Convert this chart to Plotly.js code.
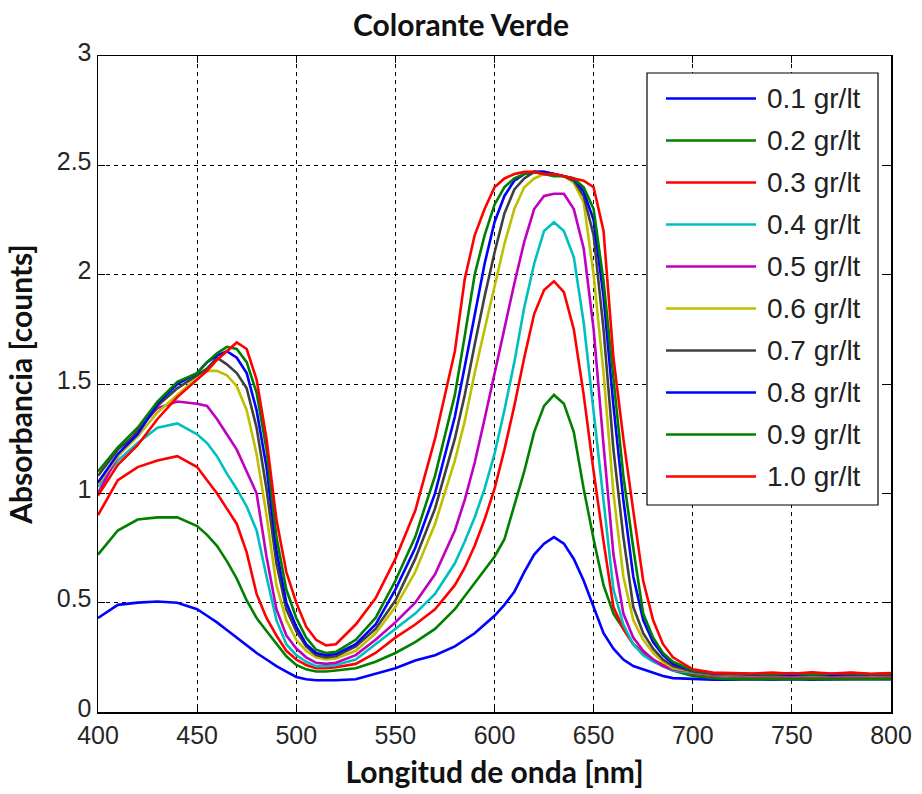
<!DOCTYPE html>
<html>
<head>
<meta charset="utf-8">
<script src="https://cdn.plot.ly/plotly-3.0.1.min.js"></script>
<style>html,body{margin:0;padding:0;background:#fff;}#chart{width:922px;height:794px;}</style>
</head>
<body>
<div id="chart"></div>
<script>
// Wavelength grid (nm)
const wavelength = [400,410,420,430,440,
  450,455,460,465,470,475,480,485,490,495,500,505,510,515,520,
  530,540,550,560,570,580,
  585,590,595,600,605,610,615,620,625,630,635,640,645,650,655,660,665,670,675,680,685,690,
  700,710,720,730,740,750,760,770,780,790,800];

const seriesNames = ['0.1 gr/lt','0.2 gr/lt','0.3 gr/lt','0.4 gr/lt','0.5 gr/lt','0.6 gr/lt','0.7 gr/lt','0.8 gr/lt','0.9 gr/lt','1.0 gr/lt'];
const seriesColors = ['#0000FF','#008000','#FF0000','#00BFBF','#BF00BF','#BFBF00','#404040','#0000FF','#008000','#FF0000'];

const abs01 = [0.43,0.49,0.50,0.505,0.50,
  0.47,0.44,0.41,0.375,0.34,0.305,0.27,0.24,0.21,0.185,0.16,0.15,0.145,0.145,0.145,
  0.15,0.175,0.20,0.235,0.26,0.30,
  0.33,0.36,0.40,0.44,0.49,0.55,0.64,0.72,0.77,0.80,0.77,0.70,0.60,0.48,0.36,0.29,0.24,0.21,0.195,0.18,0.165,0.155,
  0.15,0.148,0.148,0.15,0.148,0.15,0.148,0.15,0.15,0.15,0.15];
const abs02 = [0.72,0.83,0.88,0.89,0.89,
  0.85,0.81,0.76,0.69,0.61,0.51,0.43,0.37,0.31,0.255,0.215,0.195,0.185,0.185,0.19,
  0.20,0.23,0.27,0.32,0.38,0.47,
  0.53,0.59,0.65,0.71,0.79,0.94,1.10,1.28,1.40,1.45,1.41,1.28,1.02,0.79,0.58,0.45,0.38,0.31,0.27,0.235,0.21,0.19,
  0.165,0.155,0.15,0.15,0.148,0.15,0.15,0.148,0.15,0.15,0.15];
const abs03 = [0.90,1.06,1.12,1.15,1.17,
  1.12,1.06,1.00,0.93,0.86,0.73,0.54,0.43,0.35,0.28,0.24,0.215,0.20,0.20,0.205,
  0.22,0.27,0.34,0.40,0.47,0.58,
  0.66,0.76,0.88,1.02,1.20,1.40,1.62,1.82,1.93,1.97,1.92,1.75,1.45,1.10,0.78,0.48,0.38,0.31,0.27,0.24,0.215,0.20,
  0.175,0.165,0.162,0.16,0.16,0.162,0.16,0.16,0.162,0.16,0.16];
const abs04 = [1.03,1.15,1.23,1.30,1.32,
  1.27,1.23,1.17,1.09,1.02,0.94,0.83,0.62,0.42,0.31,0.26,0.23,0.21,0.21,0.215,
  0.24,0.31,0.38,0.45,0.54,0.68,
  0.78,0.89,1.02,1.18,1.38,1.60,1.85,2.05,2.20,2.24,2.20,2.08,1.78,1.38,0.95,0.56,0.40,0.31,0.26,0.23,0.21,0.19,
  0.18,0.17,0.165,0.165,0.163,0.165,0.165,0.163,0.165,0.165,0.165];
const abs05 = [1.00,1.17,1.29,1.39,1.42,
  1.41,1.40,1.34,1.27,1.20,1.10,1.00,0.71,0.47,0.35,0.29,0.25,0.225,0.22,0.225,
  0.26,0.33,0.41,0.50,0.63,0.83,
  0.97,1.14,1.34,1.55,1.76,1.96,2.15,2.30,2.36,2.37,2.37,2.30,2.12,1.75,1.22,0.72,0.45,0.34,0.28,0.24,0.21,0.195,
  0.185,0.172,0.168,0.168,0.166,0.168,0.168,0.166,0.168,0.168,0.168];
const abs06 = [1.04,1.17,1.26,1.37,1.45,
  1.53,1.56,1.56,1.54,1.49,1.38,1.18,0.90,0.58,0.42,0.33,0.28,0.25,0.24,0.245,
  0.28,0.36,0.48,0.64,0.86,1.15,
  1.33,1.55,1.75,1.95,2.14,2.30,2.40,2.44,2.46,2.46,2.45,2.42,2.33,2.00,1.55,1.00,0.62,0.42,0.33,0.27,0.23,0.20,
  0.185,0.175,0.172,0.17,0.172,0.175,0.17,0.172,0.175,0.17,0.172];
const abs07 = [1.08,1.20,1.28,1.40,1.48,
  1.54,1.57,1.62,1.59,1.55,1.48,1.30,1.02,0.68,0.47,0.37,0.30,0.26,0.25,0.255,
  0.30,0.38,0.51,0.70,0.93,1.25,
  1.45,1.68,1.90,2.10,2.28,2.39,2.44,2.47,2.47,2.46,2.45,2.43,2.36,2.18,1.75,1.20,0.80,0.48,0.36,0.29,0.24,0.21,
  0.185,0.175,0.172,0.172,0.17,0.172,0.172,0.17,0.172,0.172,0.17];
const abs08 = [1.05,1.18,1.27,1.41,1.50,
  1.55,1.60,1.63,1.65,1.62,1.55,1.38,1.12,0.74,0.50,0.39,0.31,0.27,0.26,0.265,
  0.31,0.40,0.56,0.75,1.00,1.35,
  1.58,1.82,2.05,2.24,2.36,2.43,2.46,2.47,2.47,2.46,2.45,2.44,2.38,2.25,1.90,1.40,0.97,0.62,0.42,0.32,0.26,0.22,
  0.19,0.178,0.175,0.172,0.175,0.17,0.178,0.17,0.175,0.172,0.175];
const abs09 = [1.10,1.21,1.30,1.42,1.51,
  1.55,1.60,1.64,1.67,1.66,1.60,1.46,1.20,0.80,0.56,0.43,0.34,0.285,0.27,0.275,
  0.33,0.43,0.60,0.80,1.08,1.45,
  1.72,2.00,2.18,2.32,2.40,2.44,2.46,2.47,2.46,2.45,2.45,2.44,2.40,2.30,1.97,1.52,1.08,0.75,0.45,0.34,0.27,0.23,
  0.19,0.178,0.175,0.175,0.172,0.178,0.172,0.175,0.178,0.172,0.175];
const abs10 = [0.99,1.13,1.22,1.34,1.44,
  1.52,1.56,1.61,1.65,1.69,1.66,1.52,1.25,0.88,0.64,0.50,0.39,0.33,0.305,0.31,
  0.40,0.52,0.70,0.92,1.25,1.65,
  1.98,2.18,2.30,2.40,2.44,2.46,2.47,2.47,2.46,2.46,2.45,2.44,2.43,2.40,2.20,1.62,1.25,0.92,0.60,0.42,0.31,0.25,
  0.195,0.18,0.178,0.176,0.18,0.175,0.182,0.176,0.18,0.175,0.178];

const seriesValues = [abs01,abs02,abs03,abs04,abs05,abs06,abs07,abs08,abs09,abs10];

const xTicks = [400,450,500,550,600,650,700,750,800];
const yTicks = [0,0.5,1,1.5,2,2.5,3];

// Plot area geometry (pixels)
const W = 922, H = 794;
const mL = 98, mR = 31, mT = 56, mB = 82;
const pw = W - mL - mR, ph = H - mT - mB;
const px2x = p => (p - mL) / pw;
const py2y = p => (H - mB - p) / ph;

const traces = seriesValues.map((vals, i) => ({
  type: 'scatter', mode: 'lines', x: wavelength, y: vals,
  name: seriesNames[i], line: {color: seriesColors[i], width: 2.6},
  showlegend: false, hoverinfo: 'skip'
}));

// Custom legend (MATLAB style)
const shapes = [{
  type: 'rect', xref: 'paper', yref: 'paper', layer: 'above',
  x0: px2x(647), x1: px2x(878), y0: py2y(505), y1: py2y(73),
  line: {color: '#000', width: 1.2}, fillcolor: '#fff'
}];
const annotations = [];
seriesNames.forEach((nm, i) => {
  const yy = py2y(98.5 + 42.0 * i);
  shapes.push({type: 'line', xref: 'paper', yref: 'paper', layer: 'above',
    x0: px2x(666), x1: px2x(756), y0: yy, y1: yy,
    line: {color: seriesColors[i], width: 2.6}});
  annotations.push({xref: 'paper', yref: 'paper', x: px2x(765), y: yy,
    xanchor: 'left', yanchor: 'middle', showarrow: false, text: nm,
    font: {family: 'Liberation Sans, Arial, sans-serif', size: 28, color: '#222'}});
});

const tickFont = {family: 'Liberation Sans, Arial, sans-serif', size: 25, color: '#262626'};
const titleFont = {family: 'Lato, Open Sans, sans-serif', size: 30, color: '#111', weight: 'bold'};

const layout = {
  width: W, height: H,
  margin: {l: mL, r: mR, t: mT, b: mB, pad: 0},
  paper_bgcolor: '#fff', plot_bgcolor: '#fff',
  title: {text: 'Colorante Verde', font: titleFont, x: 0.5, xanchor: 'center',
          y: 1 - 25 / H, yanchor: 'middle', yref: 'container'},
  xaxis: {
    range: [400, 800], tickvals: xTicks, ticktext: xTicks.map(String),
    showgrid: true, gridcolor: '#000', gridwidth: 1, griddash: '4px,4px',
    zeroline: false, showline: true, linecolor: '#000', linewidth: 1.5, mirror: 'ticks',
    ticks: 'inside', ticklen: 7, tickcolor: '#000', tickwidth: 1,
    tickfont: tickFont, automargin: false,
    title: {text: 'Longitud de onda [nm]', font: titleFont, standoff: 14}
  },
  yaxis: {
    range: [0, 3], tickvals: yTicks, ticktext: yTicks.map(String),
    showgrid: true, gridcolor: '#000', gridwidth: 1, griddash: '4px,4px',
    zeroline: false, showline: true, linecolor: '#000', linewidth: 1.5, mirror: 'ticks',
    ticks: 'inside', ticklen: 7, tickcolor: '#000', tickwidth: 1,
    tickfont: tickFont, automargin: false, ticklabelshift: -4,
    title: {text: 'Absorbancia [counts]', font: titleFont, standoff: 15}
  },
  shapes: shapes,
  annotations: annotations
};

Plotly.newPlot('chart', traces, layout, {displayModeBar: false, staticPlot: true});
</script>
</body>
</html>
